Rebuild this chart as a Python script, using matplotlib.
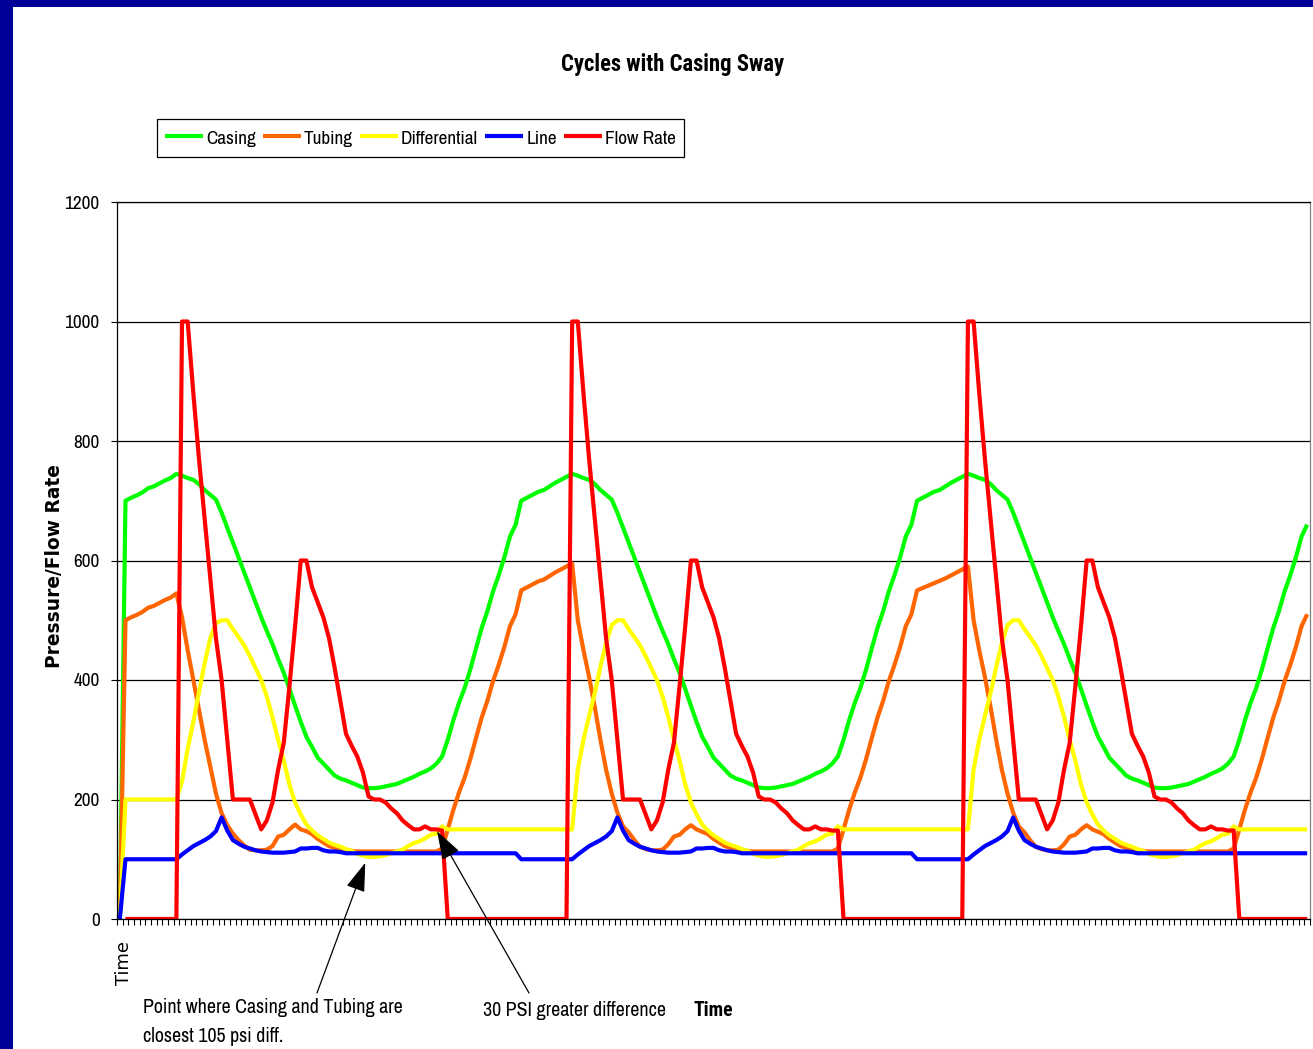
import numpy as np
import matplotlib
matplotlib.use('Agg')
import matplotlib.pyplot as plt
from matplotlib import font_manager
from matplotlib.font_manager import FontProperties
from matplotlib.patches import Rectangle

nan = float('nan')

# ---------------- data ----------------
series_names = ['Casing', 'Tubing', 'Differential', 'Line', 'Flow Rate']
series_colors = ['#00FF00', '#FF6600', '#FFFF00', '#0000FF', '#FF0000']
category_labels = ['Time']
y_ticks = [0, 200, 400, 600, 800, 1000, 1200]

casing_c1 = [0,
             700, 705, 709, 714, 721, 724, 729, 734, 738, 745,
             742, 738, 735, 728, 718, 710, 702, 680, 655, 630,
             605, 580, 555, 530, 505, 482, 460, 435, 412, 385,
             357, 330, 305, 288, 270, 260, 250, 240, 235, 232,
             228, 224, 220, 219, 219, 220, 222, 224, 226, 230,
             234, 238, 243, 247, 252, 260, 272, 300, 333, 362,
             387, 418, 453, 487, 515, 548, 575, 605, 640, 660,
             700, 705, 710, 715, 718, 724, 730, 735, 740, 745]
casing_c2 = [742, 738, 735, 728, 718, 710, 702, 680, 655, 630,
             605, 580, 555, 530, 505, 482, 460, 435, 412, 385,
             357, 330, 305, 288, 270, 260, 250, 240, 235, 232,
             228, 224, 220, 219, 219, 220, 222, 224, 226, 230,
             234, 238, 243, 247, 252, 260, 272, 300, 333, 362,
             387, 418, 453, 487, 515, 548, 575, 605, 640, 660,
             700, 705, 710, 715, 718, 724, 730, 735, 740, 745]
casing_c3 = [742, 738, 735, 728, 718, 710, 702, 680, 655, 630,
             605, 580, 555, 530, 505, 482, 460, 435, 412, 385,
             357, 330, 305, 288, 270, 260, 250, 240, 235, 232,
             228, 224, 220, 219, 219, 220, 222, 224, 226, 230,
             234, 238, 243, 247, 252, 260, 272, 300, 333, 362,
             387, 418, 453, 487, 515, 548, 575, 605, 640, 660]

tubing_c1 = [0,
             500, 505, 509, 514, 521, 524, 529, 534, 538, 545,
             505, 450, 400, 350, 300, 255, 210, 177, 157, 143,
             132, 123, 116, 115, 115, 116, 122, 138, 141, 150,
             158, 150, 147, 142, 134, 128, 122, 119, 117, 115,
             114, 113, 113, 113, 113, 113, 113, 113, 113, 113,
             113, 113, 113, 113, 113, 113, 118, 150, 183, 212,
             237, 268, 303, 337, 365, 398, 425, 455, 490, 510,
             550, 555, 560, 565, 568, 574, 580, 585, 590, 595]
tubing_c2 = [500, 450, 405, 355, 300, 250, 210, 178, 155, 145,
             132, 121, 117, 115, 115, 116, 125, 138, 141, 150,
             157, 150, 146, 142, 134, 128, 122, 119, 117, 115,
             114, 113, 113, 113, 113, 113, 113, 113, 113, 113,
             113, 113, 113, 113, 113, 113, 118, 150, 183, 212,
             237, 268, 303, 337, 365, 398, 425, 455, 490, 510,
             550, 554, 558, 562, 566, 570, 575, 580, 585, 590]
tubing_c3 = [500, 450, 405, 355, 300, 250, 210, 178, 155, 145,
             132, 121, 117, 115, 115, 116, 125, 138, 141, 150,
             157, 150, 146, 142, 134, 128, 122, 119, 117, 115,
             114, 113, 113, 113, 113, 113, 113, 113, 113, 113,
             113, 113, 113, 113, 113, 113, 118, 150, 183, 212,
             237, 268, 303, 337, 365, 398, 425, 455, 490, 510]

diff_c1 = [0,
           200, 200, 200, 200, 200, 200, 200, 200, 200, 200,
           230, 285, 330, 380, 428, 470, 495, 500, 500, 485,
           472, 458, 440, 420, 400, 372, 338, 300, 265, 225,
           195, 175, 158, 148, 140, 134, 128, 124, 121, 117,
           114, 109, 106, 104, 104, 105, 107, 110, 113, 116,
           122, 127, 130, 135, 141, 143, 155, 150, 150, 150,
           150, 150, 150, 150, 150, 150, 150, 150, 150, 150,
           150, 150, 150, 150, 150, 150, 150, 150, 150, 150]
diff_c2 = [250, 300, 340, 378, 422, 462, 492, 500, 500, 485,
           472, 458, 440, 420, 400, 372, 338, 300, 265, 225,
           195, 175, 158, 148, 140, 134, 128, 124, 121, 117,
           114, 109, 106, 104, 104, 105, 107, 110, 113, 116,
           122, 127, 130, 135, 141, 143, 155, 150, 150, 150,
           150, 150, 150, 150, 150, 150, 150, 150, 150, 150,
           150, 150, 150, 150, 150, 150, 150, 150, 150, 150]
diff_c3 = [250, 300, 340, 378, 422, 462, 492, 500, 500, 485,
           472, 458, 440, 420, 400, 372, 338, 300, 265, 225,
           195, 175, 158, 148, 140, 134, 128, 124, 121, 117,
           114, 109, 106, 104, 104, 105, 107, 110, 113, 116,
           122, 127, 130, 135, 141, 143, 155, 150, 150, 150,
           150, 150, 150, 150, 150, 150, 150, 150, 150, 150]

line_c1 = [0,
           100, 100, 100, 100, 100, 100, 100, 100, 100, 100,
           108, 115, 122, 127, 132, 138, 147, 170, 148, 132,
           126, 121, 118, 115, 113, 112, 111, 111, 111, 112,
           113, 118, 118, 119, 119, 115, 113, 113, 112, 110,
           110, 110, 110, 110, 110, 110, 110, 110, 110, 110,
           110, 110, 110, 110, 110, 110, 110, 110, 110, 110,
           110, 110, 110, 110, 110, 110, 110, 110, 110, 110,
           100, 100, 100, 100, 100, 100, 100, 100, 100, 100]
line_c2 = [108, 115, 122, 127, 132, 138, 147, 170, 148, 132,
           126, 121, 118, 115, 113, 112, 111, 111, 111, 112,
           113, 118, 118, 119, 119, 115, 113, 113, 112, 110,
           110, 110, 110, 110, 110, 110, 110, 110, 110, 110,
           110, 110, 110, 110, 110, 110, 110, 110, 110, 110,
           110, 110, 110, 110, 110, 110, 110, 110, 110, 110,
           100, 100, 100, 100, 100, 100, 100, 100, 100, 100]
line_c3 = [108, 115, 122, 127, 132, 138, 147, 170, 148, 132,
           126, 121, 118, 115, 113, 112, 111, 111, 111, 112,
           113, 118, 118, 119, 119, 115, 113, 113, 112, 110,
           110, 110, 110, 110, 110, 110, 110, 110, 110, 110,
           110, 110, 110, 110, 110, 110, 110, 110, 110, 110,
           110, 110, 110, 110, 110, 110, 110, 110, 110, 110]

flow_c1 = [nan,
           0, 0, 0, 0, 0, 0, 0, 0, 0, 0,
           1000, 1000, 880, 770, 670, 570, 470, 400, 300, 200,
           200, 200, 200, 175, 150, 165, 195, 250, 295, 390,
           490, 600, 600, 555, 530, 505, 470, 420, 365, 310,
           290, 272, 245, 205, 200, 200, 195, 185, 177, 165,
           157, 150, 150, 155, 150, 150, 148, 0,
           0, 0, 0, 0, 0, 0, 0, 0, 0, 0,
           0, 0, 0, 0, 0, 0, 0, 0, 0, 0, 0]
flow_c2 = [1000, 1000, 880, 770, 670, 570, 470, 400, 300, 200,
           200, 200, 200, 175, 150, 165, 195, 250, 295, 390,
           490, 600, 600, 555, 530, 505, 470, 420, 365, 310,
           290, 272, 245, 205, 200, 200, 195, 185, 177, 165,
           157, 150, 150, 155, 150, 150, 148, 148, 0,
           0, 0, 0, 0, 0, 0, 0, 0, 0, 0,
           0, 0, 0, 0, 0, 0, 0, 0, 0, 0, 0]
flow_c3 = [1000, 1000, 880, 770, 670, 570, 470, 400, 300, 200,
           200, 200, 200, 175, 150, 165, 195, 250, 295, 390,
           490, 600, 600, 555, 530, 505, 470, 420, 365, 310,
           290, 272, 245, 205, 200, 200, 195, 185, 177, 165,
           157, 150, 150, 155, 150, 150, 148, 148, 0,
           0, 0, 0, 0, 0, 0, 0, 0, 0, 0, 0, 0]

casing = casing_c1 + casing_c2 + casing_c3
tubing = tubing_c1 + tubing_c2 + tubing_c3
differential = diff_c1 + diff_c2 + diff_c3
line = line_c1 + line_c2 + line_c3
flow_rate = flow_c1 + flow_c2 + flow_c3

# ---------------- fonts ----------------
# The reference uses a condensed Arial-like face.
weights = {}
for f in font_manager.fontManager.ttflist:
    w = f.weight
    if isinstance(w, str):
        w = 700 if 'bold' in w.lower() else 400
    weights.setdefault(f.name, set()).add(int(w))


def has_regular(name):
    return any(w <= 500 for w in weights.get(name, set()))


def has_bold(name):
    return any(w >= 600 for w in weights.get(name, set()))


bold_prefs = ['Liberation Sans Narrow', 'Arial Narrow', 'Roboto Condensed',
              'PT Sans Narrow', 'Archivo Narrow', 'Fira Sans Condensed',
              'IBM Plex Sans Condensed', 'Encode Sans Condensed', 'Asap Condensed',
              'Open Sans Condensed', 'Barlow Semi Condensed']
reg_prefs = ['Liberation Sans Narrow', 'Arial Narrow', 'Archivo Narrow',
             'PT Sans Narrow', 'Roboto Condensed', 'Asap Condensed']

BOLD_NAME = next((p for p in bold_prefs if has_regular(p) and has_bold(p)), None)
REG_NAME = next((p for p in reg_prefs if has_regular(p)), None) or BOLD_NAME
FONT = [n for n in [REG_NAME, 'Liberation Sans', 'DejaVu Sans'] if n]
FONT_B = [n for n in [BOLD_NAME, 'Liberation Sans', 'DejaVu Sans'] if n]

# ---------------- figure ----------------
W, H = 1313, 1049
fig = plt.figure(figsize=(W / 100, H / 100), dpi=100)
fig.patch.set_facecolor('white')
renderer = fig.canvas.get_renderer()


def fit_size(s, target_px, weight='normal', family=None, base=14.0):
    """Font size (pt) at which string s is target_px wide."""
    fp = FontProperties(family=family or FONT, size=base, weight=weight)
    w, _, _ = renderer.get_text_width_height_descent(s, fp, ismath=False)
    return base * target_px / max(w, 1.0)


# dark blue slide border (left and top)
fig.add_artist(Rectangle((0, 0), 13 / W, 1, transform=fig.transFigure,
                         facecolor='#000099', edgecolor='none', zorder=0))
fig.add_artist(Rectangle((0, 1 - 7 / H), 1, 7 / H, transform=fig.transFigure,
                         facecolor='#000099', edgecolor='none', zorder=0))

ax = fig.add_axes([117 / W, 1 - 919 / H, (1310 - 117) / W, (919 - 202) / H])
ax.set_facecolor('white')

n = len(casing)
all_series = [casing, tubing, differential, line, flow_rate]
for name, vals, col in zip(series_names, all_series, series_colors):
    xs = np.arange(len(vals))
    ax.plot(xs, vals, color=col, lw=3.0, label=name,
            solid_joinstyle='round', solid_capstyle='butt')

ax.set_xlim(-0.5, n - 0.5)
ax.set_ylim(0, 1200)

# y axis
tick_size = fit_size('1200', 35)
ax.set_yticks(y_ticks)
ax.set_yticklabels([str(v) for v in y_ticks], family=FONT, fontsize=tick_size)
ax.yaxis.grid(True, color='black', lw=0.9)
ax.set_axisbelow(True)
ax.tick_params(axis='y', direction='out', length=4.5, width=0.8, pad=8)

# x axis: a tick at each category boundary
ax.set_xticks(np.arange(-0.5, n, 1.0))
ax.set_xticklabels([])
ax.tick_params(axis='x', which='major', direction='out', length=4.5, width=0.8)

for s in ['left', 'bottom', 'top']:
    ax.spines[s].set_color('black')
    ax.spines[s].set_linewidth(0.9)
ax.spines['right'].set_color('#808080')
ax.spines['right'].set_linewidth(0.9)

# category label of the first point (rotated, as in the reference)
fig.text(124 / W, 1 - 963 / H, category_labels[0], rotation=90, ha='center',
         va='center', family='DejaVu Sans',
         fontsize=fit_size(category_labels[0], 44, family='DejaVu Sans'))

# y-axis title
fig.text(54 / W, 1 - 566 / H, 'Pressure/Flow Rate', rotation=90, ha='center',
         va='center', family='DejaVu Sans', fontweight='bold',
         fontsize=fit_size('Pressure/Flow Rate', 205, weight='bold', family='DejaVu Sans'))

# title
fig.text(673 / W, 1 - 64 / H, 'Cycles with Casing Sway', ha='center', va='center',
         family=FONT_B, fontweight='bold',
         fontsize=fit_size('Cycles with Casing Sway', 225, weight='bold', family=FONT_B))

# legend
leg_size = fit_size('Differential', 77)
fs_px = leg_size * 100 / 72
leg = ax.legend(loc='upper left', bbox_to_anchor=(157 / W, 1 - 119 / H),
                bbox_transform=fig.transFigure, ncol=5, frameon=True,
                fancybox=False, edgecolor='black', framealpha=1,
                prop={'family': FONT, 'size': leg_size},
                handlelength=38 / fs_px, handleheight=26 / fs_px,
                handletextpad=3 / fs_px, columnspacing=7 / fs_px,
                borderpad=8 / fs_px, borderaxespad=0)
leg.get_frame().set_linewidth(0.9)

# x-axis title
fig.text(713 / W, 1 - 1011 / H, 'Time', ha='center', va='center',
         family=FONT_B, fontweight='bold',
         fontsize=fit_size('Time', 40, weight='bold', family=FONT_B))

# annotations
ann_size = fit_size('Point where Casing and Tubing are', 259)
fig.text(143 / W, 1 - 1022 / H, 'Point where Casing and Tubing are\nclosest 105 psi diff.',
         ha='left', va='center', family=FONT, fontsize=ann_size, linespacing=1.65)
fig.text(483 / W, 1 - 1010 / H, '30 PSI greater difference',
         ha='left', va='center', family=FONT,
         fontsize=fit_size('30 PSI greater difference', 183))

arrow_kw = dict(arrowstyle='-|>,head_length=1.2,head_width=0.4', color='black',
                lw=0.9, shrinkA=0, shrinkB=0, mutation_scale=15)
ax.annotate('', xy=(43.4, 94), xycoords='data',
            xytext=(317, H - 993), textcoords='figure pixels',
            arrowprops=arrow_kw, annotation_clip=False)
ax.annotate('', xy=(56.1, 147), xycoords='data',
            xytext=(529, H - 993), textcoords='figure pixels',
            arrowprops=arrow_kw, annotation_clip=False)

fig.savefig('out.png', dpi=100)
